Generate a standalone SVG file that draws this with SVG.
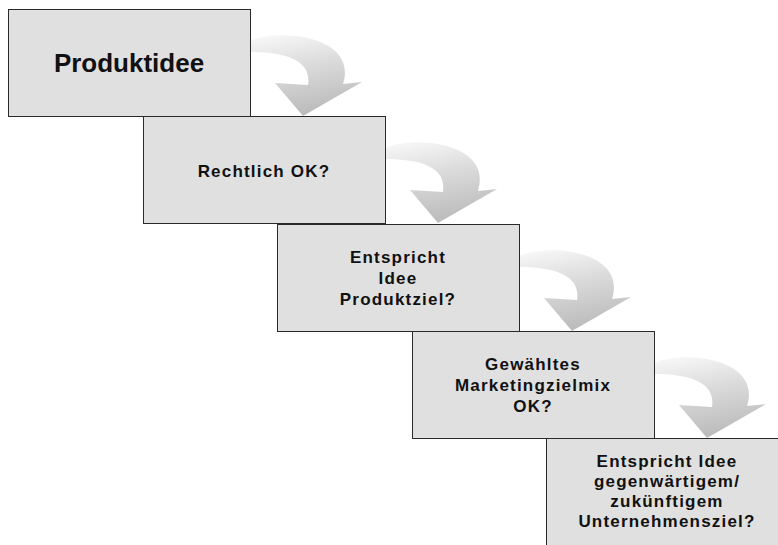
<svg xmlns="http://www.w3.org/2000/svg" width="778" height="545" viewBox="0 0 778 545">
  <style>
    .box { fill: #e0e0e0; stroke: #2a2a2a; stroke-width: 1; }
    .lbl { font-family: "Liberation Sans", Arial, sans-serif; font-weight: bold; font-size: 17px; letter-spacing: 1.2px; fill: #111; text-anchor: middle; }
    .big { font-size: 26px; letter-spacing: 0; }
    .arrow { fill: url(#arrowGrad); }
  </style>
  <defs>
    <linearGradient id="arrowGrad" x1="0" y1="0" x2="0.25" y2="1">
      <stop offset="0" stop-color="#fafafa"/>
      <stop offset="0.45" stop-color="#dcdcdc"/>
      <stop offset="1" stop-color="#bdbdbd"/>
    </linearGradient>
    <path id="curvedArrow" d="M0,32 C32,18 108,28 93,75 L112,73 L53,107 L25,74 L58,76 C62,51 35,43 0,43 Z"/>
  </defs>
  <rect width="778" height="545" fill="#ffffff"/>

  <g id="connectors">
    <use href="#curvedArrow" class="arrow" transform="translate(250,9)"/>
    <use href="#curvedArrow" class="arrow" transform="translate(385,116)"/>
    <use href="#curvedArrow" class="arrow" transform="translate(519,224)"/>
    <use href="#curvedArrow" class="arrow" transform="translate(654,331)"/>
  </g>

  <g id="node-produktidee">
    <rect class="box" x="8.5" y="9.5" width="242" height="107"/>
    <text class="lbl big" x="129" y="72">Produktidee</text>
  </g>

  <g id="node-rechtlich">
    <rect class="box" x="143.5" y="116.5" width="242" height="107"/>
    <text class="lbl" x="264" y="177">Rechtlich OK?</text>
  </g>

  <g id="node-produktziel">
    <rect class="box" x="277.5" y="224.5" width="242" height="107"/>
    <text class="lbl" x="398" y="263">Entspricht</text>
    <text class="lbl" x="398" y="284">Idee</text>
    <text class="lbl" x="398" y="305">Produktziel?</text>
  </g>

  <g id="node-marketing">
    <rect class="box" x="412.5" y="331.5" width="242" height="107"/>
    <text class="lbl" x="533" y="370">Gewähltes</text>
    <text class="lbl" x="533" y="391">Marketingzielmix</text>
    <text class="lbl" x="533" y="412">OK?</text>
  </g>

  <g id="node-unternehmensziel">
    <rect class="box" x="546.5" y="438.5" width="242" height="107"/>
    <text class="lbl" x="667" y="467">Entspricht Idee</text>
    <text class="lbl" x="667" y="487">gegenwärtigem/</text>
    <text class="lbl" x="667" y="507">zukünftigem</text>
    <text class="lbl" x="667" y="527">Unternehmensziel?</text>
  </g>
</svg>
